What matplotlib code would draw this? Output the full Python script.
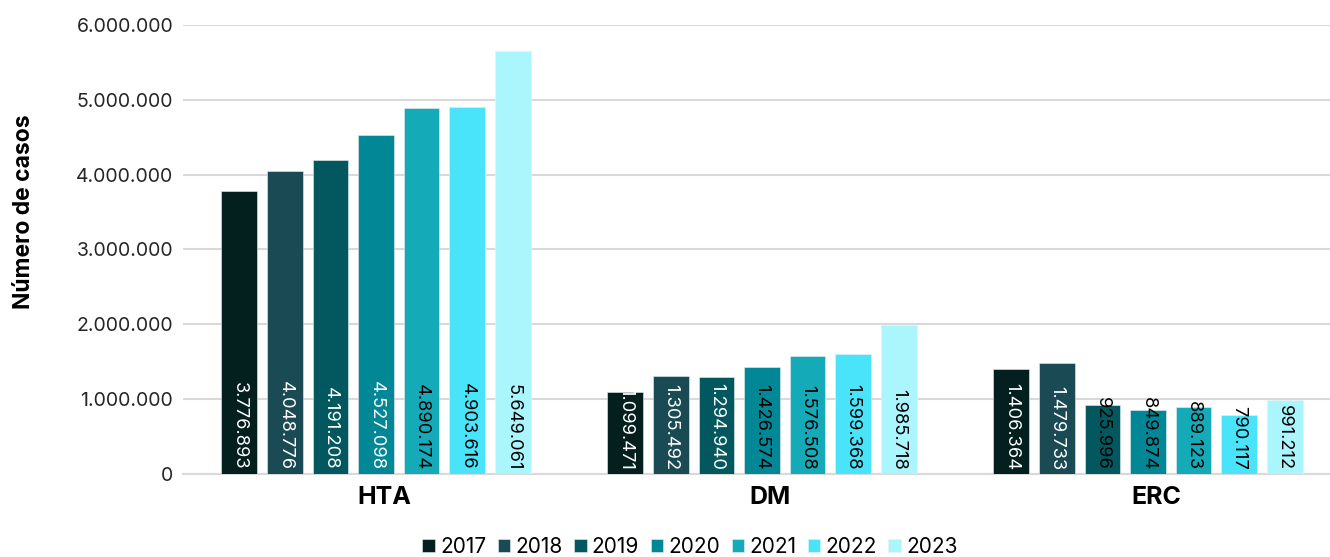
import matplotlib.pyplot as plt
import numpy as np

categories = ["HTA", "DM", "ERC"]
years = ["2017", "2018", "2019", "2020", "2021", "2022", "2023"]
values = {
    "2017": [3776893, 1099471, 1406364],
    "2018": [4048776, 1305492, 1479733],
    "2019": [4191208, 1294940, 925996],
    "2020": [4527098, 1426574, 849874],
    "2021": [4890174, 1576508, 889123],
    "2022": [4903616, 1599368, 790117],
    "2023": [5649061, 1985718, 991212],
}
colors = ["#03201F", "#1A4A53", "#02585E", "#028796", "#15AAB8", "#4AE4FA", "#ABF6FD"]
# label colour per year, per category (as in the source chart)
label_colors = {
    "2017": ["white", "white", "white"],
    "2018": ["white", "white", "white"],
    "2019": ["white", "white", "black"],
    "2020": ["white", "black", "black"],
    "2021": ["black", "black", "black"],
    "2022": ["black", "black", "black"],
    "2023": ["black", "black", "black"],
}

plt.rcParams['font.family'] = ['Inter', 'DejaVu Sans']

W, H = 1330, 557
fig = plt.figure(figsize=(W / 100, H / 100), dpi=100)
# axes: left 183px, right 1341px (runs past the edge), y from 474 to 25
ax = fig.add_axes([183 / W, (H - 474) / H, (1341 - 183) / W, (474 - 25) / H])

x = np.arange(len(categories))
pitch = 0.118
width = 0.093
shift = -0.021  # bars sit a bit left of the category label


def fmt(v):
    return f"{v:,}".replace(",", ".")


for i, yr in enumerate(years):
    pos = x + (i - 3) * pitch + shift
    ax.bar(pos, values[yr], width, color=colors[i], label=yr, zorder=3,
           edgecolor="#e8f0f0", linewidth=0.4)
    for p, v, c in zip(pos, values[yr], label_colors[yr]):
        ax.annotate(fmt(v), (p, 0), xytext=(0, 4), textcoords="offset pixels",
                    rotation=270, ha="center", va="bottom", fontsize=13.2,
                    color=c, zorder=4)

ax.set_xlim(-0.5 + shift, 2.5 + shift)
ax.set_ylim(0, 6000000)
ticks = np.arange(0, 6000001, 1000000)
ax.set_yticks(ticks)
ax.set_yticklabels([fmt(int(t)) for t in ticks], fontsize=14, color="#262626")
ax.set_xticks(x)
ax.set_xticklabels(categories, fontsize=18, fontweight="bold")
ax.tick_params(axis="both", length=0)
ax.tick_params(axis="y", pad=7)
ax.tick_params(axis="x", pad=9)
ax.grid(axis="y", color="#d9d9d9", linewidth=1.5, zorder=0)
for s in ["top", "right", "left"]:
    ax.spines[s].set_visible(False)
ax.spines["bottom"].set_color("#d9d9d9")
ax.spines["bottom"].set_linewidth(1.5)

fig.text(24 / W, 1 - 212 / H, "Número de casos", rotation=90, ha="center",
         va="center", fontsize=16.5, fontweight="bold")

fig.legend(loc="center", bbox_to_anchor=(690 / W, 1 - 547 / H), ncol=7,
           frameon=False, fontsize=15, handlelength=0.6, handleheight=0.6,
           handletextpad=0.25, columnspacing=0.55, borderaxespad=0)

fig.savefig("out.png", dpi=100)
